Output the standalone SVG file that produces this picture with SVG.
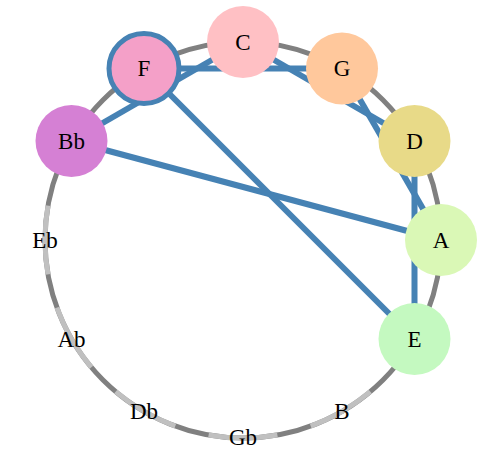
<svg xmlns="http://www.w3.org/2000/svg" width="494" height="474" viewBox="0 0 494 474">
<style>
.ring{fill:none;stroke:#808080;stroke-width:5}
.off{fill:none;stroke:#c0c0c0;stroke-width:5}
.edge{stroke:#4682b4;stroke-width:6;fill:none}
.lbl{font-family:"Liberation Serif","Times New Roman",serif;font-size:23px;fill:#000;text-anchor:middle}
.tonic{stroke:#4682b4;stroke-width:5}
</style>
<rect width="494" height="474" fill="#fff"/>
<g id="ring">
<circle class="ring" cx="243" cy="240" r="198"/>
<path class="off" d="M48,274.4 A198 198 0 0 1 48,205.6"/>
<path class="off" d="M91.3,367.3 A198 198 0 0 1 56.9,307.7"/>
<path class="off" d="M175.3,426.1 A198 198 0 0 1 115.7,391.7"/>
<path class="off" d="M277.4,435 A198 198 0 0 1 208.6,435"/>
<path class="off" d="M370.3,391.7 A198 198 0 0 1 310.7,426.1"/>
</g>
<g id="connectors">
<line class="edge" x1="144" y1="68.5" x2="342" y2="68.5"/>
<line class="edge" x1="342" y1="68.5" x2="441" y2="240"/>
<line class="edge" x1="441" y1="240" x2="71.5" y2="141"/>
<line class="edge" x1="71.5" y1="141" x2="243" y2="42"/>
<line class="edge" x1="243" y1="42" x2="414.5" y2="141"/>
<line class="edge" x1="414.5" y1="141" x2="414.5" y2="339"/>
<line class="edge" x1="414.5" y1="339" x2="144" y2="68.5"/>
</g>
<g id="node-C"><circle cx="243" cy="42" r="36" fill="#ffc0c4"/><text class="lbl" x="243" y="49.5">C</text></g>
<g id="node-G"><circle cx="342" cy="68.5" r="36" fill="#ffc89c"/><text class="lbl" x="342" y="76">G</text></g>
<g id="node-D"><circle cx="414.5" cy="141" r="36" fill="#e8da88"/><text class="lbl" x="414.5" y="148.5">D</text></g>
<g id="node-A"><circle cx="441" cy="240" r="36" fill="#daf8b6"/><text class="lbl" x="441" y="247.5">A</text></g>
<g id="node-E"><circle cx="414.5" cy="339" r="36" fill="#c4f9c0"/><text class="lbl" x="414.5" y="346.5">E</text></g>
<g id="node-F"><circle class="tonic" cx="144" cy="68.5" r="35" fill="#f4a0c8"/><text class="lbl" x="144" y="76">F</text></g>
<g id="node-Bb"><circle cx="71.5" cy="141" r="36" fill="#d580d4"/><text class="lbl" x="71.5" y="148.5">Bb</text></g>
<g id="node-Eb"><text class="lbl" x="45" y="247.5">Eb</text></g>
<g id="node-Ab"><text class="lbl" x="71.5" y="346.5">Ab</text></g>
<g id="node-Db"><text class="lbl" x="144" y="418.5">Db</text></g>
<g id="node-Gb"><text class="lbl" x="243" y="445">Gb</text></g>
<g id="node-B"><text class="lbl" x="342" y="418.5">B</text></g>
</svg>
